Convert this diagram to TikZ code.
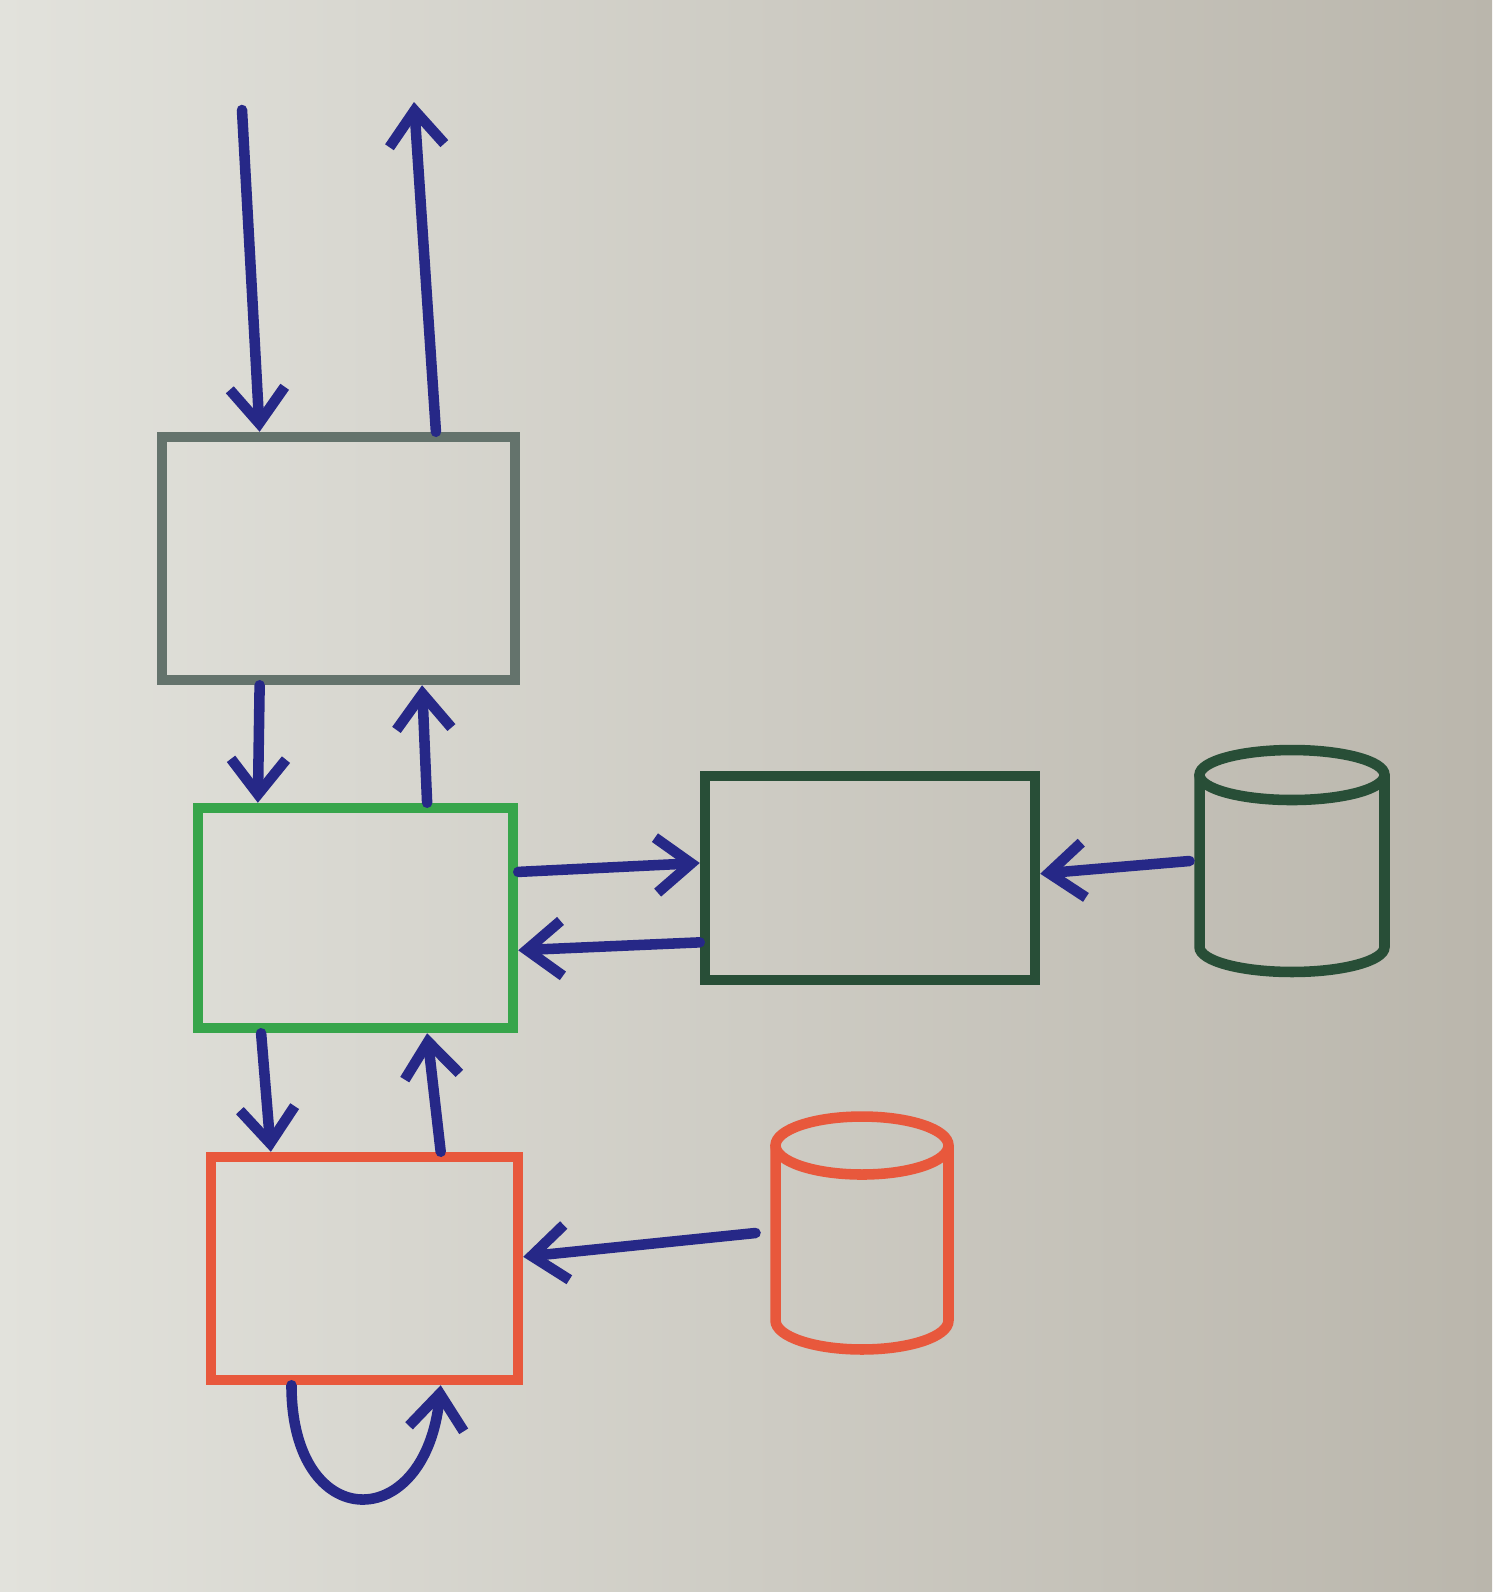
\documentclass[tikz,border=0pt]{standalone}
\usetikzlibrary{arrows.meta, positioning, calc, shapes.geometric}

\definecolor{pen}{RGB}{38,40,135}
\definecolor{slate}{RGB}{100,115,108}
\definecolor{leaf}{RGB}{55,165,75}
\definecolor{pine}{RGB}{40,78,55}
\definecolor{brick}{RGB}{232,88,60}
\definecolor{paperL}{RGB}{226,226,220}
\definecolor{paperR}{RGB}{186,182,172}

\begin{document}
\begin{tikzpicture}[
  x=0.02cm, y=-0.02cm,
  box/.style = {draw, line width=6pt, inner sep=0pt},
  db/.style = {inner sep=0pt, outer sep=0pt},
  rim/.style = {line width=6pt, line cap=round},
  arrow/.style = {pen, line width=6pt, line cap=round, -{Straight Barb[length=7mm, width=11mm]}}
]

  % Paper
  \shade[left color=paperL, right color=paperR] (0,0) rectangle (1492,1592);
  \useasboundingbox (0,0) rectangle (1492,1592);

  % Boxes
  \node[box, slate, minimum width=7.06cm, minimum height=4.86cm] (front) at (338.5,558.5) {};
  \node[box, leaf, minimum width=6.3cm, minimum height=4.4cm] (logic) at (355.5,918) {};
  \node[box, pine, minimum width=6.6cm, minimum height=4.08cm] (service) at (870,878) {};
  \node[box, brick, minimum width=6.14cm, minimum height=4.46cm] (store) at (364.5,1268.5) {};

  % Databases
  \node[db, minimum width=3.7cm, minimum height=4.44cm] (dbgreen) at (1292,861) {};
  \draw[rim, pine] ([yshift=-0.5cm]dbgreen.north) ellipse [x radius=1.85cm, y radius=0.5cm];
  \draw[rim, pine] ([yshift=-0.5cm]dbgreen.north west) -- ([yshift=0.5cm]dbgreen.south west)
    arc[start angle=180, end angle=360, x radius=1.85cm, y radius=0.5cm] -- ([yshift=-0.5cm]dbgreen.north east);

  \node[db, minimum width=3.46cm, minimum height=4.66cm] (dbred) at (862,1233) {};
  \draw[rim, brick] ([yshift=-0.58cm]dbred.north) ellipse [x radius=1.73cm, y radius=0.58cm];
  \draw[rim, brick] ([yshift=-0.58cm]dbred.north west) -- ([yshift=0.58cm]dbred.south west)
    arc[start angle=180, end angle=360, x radius=1.73cm, y radius=0.58cm] -- ([yshift=-0.58cm]dbred.north east);

  % Request in, response out
  \coordinate (in) at (242,110);
  \coordinate (out) at (414,102);
  \draw[arrow] (in) -- ($(front.north west)!0.283!(front.north east)$);
  \draw[arrow] ($(front.north west)!0.768!(front.north east)$) -- (out);

  % Front <-> logic
  \draw[arrow] ($(front.south west)!0.283!(front.south east)$) -- ($(logic.north west)!0.2!(logic.north east)$);
  \draw[arrow] ($(logic.north west)!0.72!(logic.north east)$) -- ($(front.south west)!0.73!(front.south east)$);

  % Logic <-> service
  \draw[arrow] ($(logic.north east)!0.3!(logic.south east)$) -- ($(service.north west)!0.43!(service.south west)$);
  \draw[arrow] ($(service.north west)!0.8!(service.south west)$) -- ($(logic.north east)!0.64!(logic.south east)$);
  \draw[arrow] ([xshift=-0.2cm]dbgreen.west) -- ($(service.north east)!0.48!(service.south east)$);

  % Logic <-> store
  \draw[arrow] ($(logic.south west)!0.21!(logic.south east)$) -- ($(store.north west)!0.205!(store.north east)$);
  \draw[arrow] ($(store.north west)!0.74!(store.north east)$) -- ($(logic.south west)!0.72!(logic.south east)$);
  \draw[arrow] ([xshift=-0.4cm]dbred.west) -- ($(store.north east)!0.45!(store.south east)$);

  % Loop on store
  \draw[arrow] ($(store.south west)!0.27!(store.south east)$) .. controls +(0,150) and +(-15,150) .. ($(store.south west)!0.74!(store.south east)$);

\end{tikzpicture}
\end{document}
